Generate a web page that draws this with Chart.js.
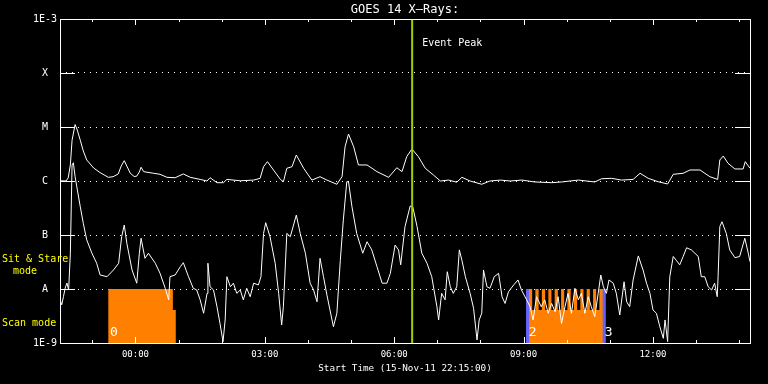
<!DOCTYPE html>
<html>
<head>
<title>GOES 14 X-Rays</title>
<script src="https://cdn.jsdelivr.net/npm/chart.js"></script>
<style>
    body { margin: 0; background: #000; }
</style>
</head>
<body>
<canvas id="chart" width="768" height="384"></canvas>
<script>
// time in hours relative to 00:00 of 16-Nov-11 (plot starts 22:15 the day before)
const startHour = -1.75;
const endHour = 14.25;

const xTickValues = [0, 3, 6, 9, 12];
const xTickLabels = ['00:00', '03:00', '06:00', '09:00', '12:00'];
const yTickValues = [1e-9, 1e-8, 1e-7, 1e-6, 1e-5, 1e-4, 1e-3];
const yTickLabels = ['1E-9', 'A', 'B', 'C', 'M', 'X', '1E-3'];

// 1-8 A channel (upper curve)
const longTimes = [
    -1.75, -1.71, -1.61, -1.56, -1.51, -1.47, -1.40, -1.35, -1.28, -1.21,
    -1.13, -0.97, -0.82, -0.63, -0.52, -0.40, -0.33, -0.26, -0.19, -0.12,
    -0.03, 0.03, 0.09, 0.13, 0.19, 0.42, 0.57, 0.73, 0.92, 1.11,
    1.27, 1.50, 1.66, 1.73, 1.89, 2.04, 2.12, 2.43, 2.74, 2.89,
    2.97, 3.06, 3.20, 3.36, 3.43, 3.51, 3.63, 3.73, 3.90, 4.09,
    4.28, 4.44, 4.67, 4.79, 4.86, 4.94, 5.06, 5.17, 5.37, 5.60,
    5.87, 6.06, 6.18, 6.29, 6.41, 6.56, 6.72, 6.91, 7.07, 7.26,
    7.45, 7.57, 7.76, 8.03, 8.22, 8.46, 8.69, 8.96, 9.26, 9.65,
    9.88, 10.27, 10.65, 10.81, 11.04, 11.27, 11.54, 11.70, 11.89, 12.12,
    12.34, 12.47, 12.70, 12.86, 13.09, 13.32, 13.50, 13.55, 13.63, 13.74,
    13.90, 14.09, 14.14, 14.25
];
const longFlux = [
    1.0e-6, 1.01e-6, 1.0e-6, 1.14e-6, 1.98e-6, 5.7e-6, 1.11e-5, 8.8e-6, 5.7e-6, 3.6e-6,
    2.45e-6, 1.74e-6, 1.43e-6, 1.17e-6, 1.2e-6, 1.35e-6, 1.9e-6, 2.38e-6, 1.82e-6, 1.39e-6,
    1.21e-6, 1.23e-6, 1.47e-6, 1.8e-6, 1.49e-6, 1.39e-6, 1.33e-6, 1.17e-6, 1.15e-6, 1.35e-6,
    1.17e-6, 1.07e-6, 1.0e-6, 1.15e-6, 9.3e-7, 9.3e-7, 1.07e-6, 1.01e-6, 1.04e-6, 1.12e-6,
    1.84e-6, 2.28e-6, 1.6e-6, 1.07e-6, 9.7e-7, 1.72e-6, 1.84e-6, 3.03e-6, 1.72e-6, 1.04e-6,
    1.2e-6, 1.04e-6, 8.7e-7, 1.2e-6, 4.3e-6, 7.4e-6, 4.3e-6, 1.98e-6, 1.98e-6, 1.49e-6,
    1.17e-6, 1.76e-6, 1.49e-6, 2.82e-6, 3.92e-6, 2.82e-6, 1.72e-6, 1.29e-6, 1.0e-6, 1.04e-6,
    9.5e-7, 1.17e-6, 1.0e-6, 8.7e-7, 1.0e-6, 1.04e-6, 1.0e-6, 1.04e-6, 9.6e-7, 9.3e-7,
    9.6e-7, 1.04e-6, 9.6e-7, 1.1e-6, 1.12e-6, 1.04e-6, 1.07e-6, 1.39e-6, 1.12e-6, 9.7e-7,
    8.8e-7, 1.33e-6, 1.39e-6, 1.6e-6, 1.6e-6, 1.2e-6, 1.07e-6, 2.45e-6, 2.9e-6, 2.13e-6,
    1.67e-6, 1.67e-6, 2.28e-6, 1.72e-6
];

// 0.5-4 A channel (lower curve)
const shortTimes = [
    -1.75, -1.71, -1.67, -1.63, -1.59, -1.55, -1.51, -1.47, -1.44, -1.40,
    -1.36, -1.28, -1.21, -1.13, -1.01, -0.90, -0.82, -0.66, -0.51, -0.39,
    -0.32, -0.26, -0.20, -0.08, 0.03, 0.09, 0.13, 0.22, 0.30, 0.46,
    0.57, 0.69, 0.77, 0.80, 0.92, 1.04, 1.11, 1.23, 1.34, 1.42,
    1.50, 1.58, 1.66, 1.68, 1.73, 1.81, 1.89, 1.96, 2.03, 2.08,
    2.12, 2.20, 2.27, 2.35, 2.43, 2.50, 2.58, 2.66, 2.74, 2.85,
    2.91, 2.97, 3.02, 3.12, 3.24, 3.32, 3.39, 3.43, 3.51, 3.59,
    3.73, 3.82, 3.94, 4.05, 4.13, 4.21, 4.28, 4.36, 4.44, 4.51,
    4.59, 4.67, 4.75, 4.82, 4.90, 4.94, 5.02, 5.13, 5.27, 5.37,
    5.48, 5.60, 5.72, 5.83, 5.91, 6.02, 6.10, 6.15, 6.25, 6.37,
    6.43, 6.53, 6.64, 6.76, 6.87, 6.99, 7.03, 7.10, 7.18, 7.23,
    7.30, 7.37, 7.45, 7.51, 7.57, 7.65, 7.76, 7.84, 7.92, 7.97,
    8.03, 8.07, 8.15, 8.22, 8.32, 8.42, 8.50, 8.57, 8.65, 8.77,
    8.87, 8.95, 9.07, 9.15, 9.22, 9.30, 9.41, 9.49, 9.57, 9.65,
    9.73, 9.80, 9.88, 9.96, 10.03, 10.11, 10.19, 10.27, 10.34, 10.42,
    10.50, 10.57, 10.65, 10.73, 10.79, 10.85, 10.92, 10.98, 11.08, 11.15,
    11.23, 11.33, 11.39, 11.46, 11.54, 11.66, 11.77, 11.85, 11.93, 12.00,
    12.08, 12.16, 12.24, 12.28, 12.34, 12.39, 12.47, 12.54, 12.62, 12.70,
    12.78, 12.89, 13.05, 13.12, 13.20, 13.28, 13.36, 13.43, 13.49, 13.51,
    13.55, 13.60, 13.70, 13.78, 13.90, 14.01, 14.13, 14.21, 14.25
];
const shortFlux = [
    6.3e-9, 5.1e-9, 7.2e-9, 1.04e-8, 1.29e-8, 9.6e-9, 4.6e-8, 1.98e-6, 2.18e-6, 1.2e-6,
    7.8e-7, 3.34e-7, 1.65e-7, 8.1e-8, 4.6e-8, 3.0e-8, 1.82e-8, 1.69e-8, 2.25e-8, 3.0e-8,
    9.3e-8, 1.53e-7, 7.0e-8, 2.25e-8, 1.28e-8, 4.6e-8, 8.7e-8, 3.7e-8, 4.6e-8, 3.0e-8,
    1.95e-8, 1.03e-8, 6.3e-9, 1.69e-8, 1.82e-8, 2.59e-8, 3.07e-8, 1.69e-8, 1.03e-8, 9.6e-9,
    6.3e-9, 3.55e-9, 8.3e-9, 3.0e-8, 1.1e-8, 9.6e-9, 4.7e-9, 2.3e-9, 1.06e-9, 2.67e-9,
    1.69e-8, 1.1e-8, 1.28e-8, 8.3e-9, 9.6e-9, 6.3e-9, 1.03e-8, 7.2e-9, 1.28e-8, 1.19e-8,
    1.69e-8, 1.07e-7, 1.69e-7, 9.3e-8, 3.0e-8, 8.3e-9, 2.15e-9, 4.7e-9, 1.07e-7, 9.3e-8,
    2.34e-7, 1.07e-7, 4.6e-8, 1.28e-8, 9.6e-9, 5.8e-9, 3.7e-8, 1.69e-8, 7.7e-9, 4.1e-9,
    2.0e-9, 3.55e-9, 3.4e-8, 1.9e-7, 9.7e-7, 9.7e-7, 3.34e-7, 1.07e-7, 4.6e-8, 7.5e-8,
    5.3e-8, 2.59e-8, 1.28e-8, 1.28e-8, 1.95e-8, 6.5e-8, 5.3e-8, 2.8e-8, 1.43e-7, 3.44e-7,
    3.34e-7, 1.43e-7, 4.6e-8, 3.0e-8, 1.69e-8, 4.7e-9, 2.67e-9, 8.3e-9, 6.3e-9, 2.09e-8,
    1.1e-8, 8.3e-9, 1.1e-8, 5.3e-8, 3.4e-8, 1.69e-8, 8.3e-9, 4.4e-9, 1.14e-9, 2.67e-9,
    3.55e-9, 2.25e-8, 1.1e-8, 1.03e-8, 1.69e-8, 1.95e-8, 7.2e-9, 5.4e-9, 8.9e-9, 1.19e-8,
    1.47e-8, 9.6e-9, 6.3e-9, 4.7e-9, 2.67e-9, 7.2e-9, 4.7e-9, 6.3e-9, 3.55e-9, 5.4e-9,
    3.8e-9, 7.2e-9, 2.3e-9, 4.7e-9, 8.3e-9, 3.55e-9, 1.03e-8, 6.3e-9, 8.3e-9, 3.55e-9,
    7.2e-9, 4.7e-9, 3.07e-9, 8.3e-9, 1.82e-8, 1.1e-8, 8.3e-9, 1.47e-8, 1.28e-8, 8.3e-9,
    3.3e-9, 1.36e-8, 5.8e-9, 4.7e-9, 1.47e-8, 4.1e-8, 2.25e-8, 1.28e-8, 8.3e-9, 4.1e-9,
    3.55e-9, 2.0e-9, 1.22e-9, 2.67e-9, 1.06e-9, 1.69e-8, 4.0e-8, 3.4e-8, 2.8e-8, 4.0e-8,
    5.8e-8, 5.3e-8, 4.0e-8, 1.69e-8, 1.69e-8, 1.1e-8, 9.6e-9, 1.28e-8, 7.2e-9, 1.69e-8,
    1.43e-7, 1.76e-7, 1.07e-7, 5.3e-8, 3.8e-8, 4.0e-8, 8.7e-8, 4.6e-8, 3.2e-8
];

// observing mode blocks (stepped outline, level holds until next time)
const block0Times = [-0.633, 0.867, 0.937];
const block0Level = [1e-8, 4.1e-9, 4.1e-9];
const block2Times = [
    9.067, 9.199, 9.273, 9.349, 9.423, 9.500, 9.574, 9.646, 9.720, 9.795,
    9.869, 9.941, 10.015, 10.092, 10.166, 10.242, 10.316, 10.388, 10.462, 10.537,
    10.611, 10.683, 10.757, 10.90
];
const block2Level = [
    1e-8, 4.1e-9, 1e-8, 4.1e-9, 1e-8, 4.1e-9, 1e-8, 4.1e-9, 1e-8, 4.1e-9,
    1e-8, 4.1e-9, 1e-8, 4.1e-9, 1e-8, 4.1e-9, 1e-8, 4.1e-9, 1e-8, 4.1e-9,
    1e-8, 4.1e-9, 1e-8, 1e-8
];
const scanEdgeTimes = [9.092, 10.868];
const blockLabels = ['0', '2', '3'];
const blockLabelTimes = [-0.59, 9.12, 10.88];

const eventPeakTime = 6.416;

const font = "'DejaVu Sans Mono', monospace";

function pairs(xs, ys) {
    return xs.map((t, i) => ({ x: t, y: ys[i] }));
}

// frame, inward ticks and annotation texts
const decorations = {
    id: 'decorations',
    afterDatasetsDraw(chart) {
        const { ctx, chartArea: a, scales: { x, y } } = chart;
        ctx.save();
        ctx.strokeStyle = '#fff';
        ctx.lineWidth = 1;
        ctx.strokeRect(a.left + 0.5, a.top + 0.5, a.right - a.left, a.bottom - a.top);
        ctx.beginPath();
        yTickValues.slice(1, -1).forEach(v => {
            const py = Math.round(y.getPixelForValue(v)) + 0.5;
            ctx.moveTo(a.left, py); ctx.lineTo(a.left + 15, py);
            ctx.moveTo(a.right - 15, py); ctx.lineTo(a.right + 1, py);
        });
        for (let h = Math.ceil(x.min); h <= x.max; h++) {
            const px = Math.round(x.getPixelForValue(h)) + 0.5;
            const len = h % 3 === 0 ? 6 : 3;
            ctx.moveTo(px, a.top); ctx.lineTo(px, a.top + len);
            ctx.moveTo(px, a.bottom); ctx.lineTo(px, a.bottom - len);
        }
        ctx.stroke();

        ctx.fillStyle = '#fff';
        ctx.textBaseline = 'middle';
        ctx.textAlign = 'center';
        ctx.font = '12px ' + font;
        ctx.fillText('GOES 14 X\u2013Rays:', (a.left + a.right) / 2, a.top - 9);

        ctx.textAlign = 'left';
        ctx.font = '10px ' + font;
        ctx.fillText('Event Peak', x.getPixelForValue(eventPeakTime) + 10, a.top + 24);

        ctx.font = '13px ' + font;
        blockLabels.forEach((s, i) => {
            ctx.fillText(s, x.getPixelForValue(blockLabelTimes[i]), a.bottom - 10);
        });

        const yA = y.getPixelForValue(1e-8);
        ctx.fillStyle = '#ffff00';
        ctx.font = '10px ' + font;
        ctx.fillText('Sit & Stare', 2, yA - 30);
        ctx.fillText('mode', 13, yA - 18);
        ctx.fillText('Scan mode', 2, a.bottom - 20);
        ctx.restore();
    }
};

const datasets = [
    {
        data: [{ x: eventPeakTime, y: 1e-9 }, { x: eventPeakTime, y: 1e-3 }],
        borderColor: '#a0d000', borderWidth: 2, order: -1
    },
    { data: pairs(longTimes, longFlux), borderColor: '#fff', borderWidth: 1, order: 0 },
    { data: pairs(shortTimes, shortFlux), borderColor: '#fff', borderWidth: 1, order: 0 },
    ...scanEdgeTimes.map(t => ({
        data: [{ x: t, y: 1e-9 }, { x: t, y: 1e-8 }],
        borderColor: '#6464ff', borderWidth: 3, order: 1
    })),
    {
        data: pairs(block0Times, block0Level), stepped: true, fill: 'start',
        backgroundColor: '#ff8000', borderColor: 'rgba(0,0,0,0)', borderWidth: 0, order: 2
    },
    {
        data: pairs(block2Times, block2Level), stepped: true, fill: 'start',
        backgroundColor: '#ff8000', borderColor: 'rgba(0,0,0,0)', borderWidth: 0, order: 2
    }
];
datasets.forEach(d => { d.pointRadius = 0; d.tension = 0; if (!d.fill) d.fill = false; });

new Chart(document.getElementById('chart'), {
    type: 'line',
    data: { datasets },
    plugins: [decorations],
    options: {
        responsive: false,
        animation: false,
        events: [],
        layout: { padding: { top: 19, right: 18, left: 0, bottom: 0 } },
        plugins: {
            legend: { display: false },
            title: { display: false },
            tooltip: { enabled: false }
        },
        scales: {
            x: {
                type: 'linear',
                min: startHour,
                max: endHour,
                afterBuildTicks: s => { s.ticks = xTickValues.map(v => ({ value: v })); },
                afterFit: s => { s.height = 41; },
                grid: { display: false, drawTicks: false },
                border: { display: false },
                ticks: {
                    color: '#fff', font: { family: font, size: 9 }, padding: 6,
                    maxRotation: 0, autoSkip: false,
                    callback: (v, i) => xTickLabels[i]
                },
                title: {
                    display: true, text: 'Start Time (15-Nov-11 22:15:00)', color: '#fff',
                    font: { family: font, size: 9.3 }, padding: { top: 0, bottom: 10 }
                }
            },
            y: {
                type: 'logarithmic',
                min: 1e-9,
                max: 1e-3,
                afterBuildTicks: s => { s.ticks = yTickValues.map(v => ({ value: v })); },
                afterFit: s => { s.width = 60; },
                grid: { color: '#fff', lineWidth: 1, drawTicks: false },
                border: { display: false, dash: [1, 5] },
                ticks: {
                    color: '#fff', font: { family: font, size: 10 }, padding: 3,
                    crossAlign: 'center',
                    callback: (v, i) => yTickLabels[i]
                }
            }
        }
    }
});
</script>
</body>
</html>
